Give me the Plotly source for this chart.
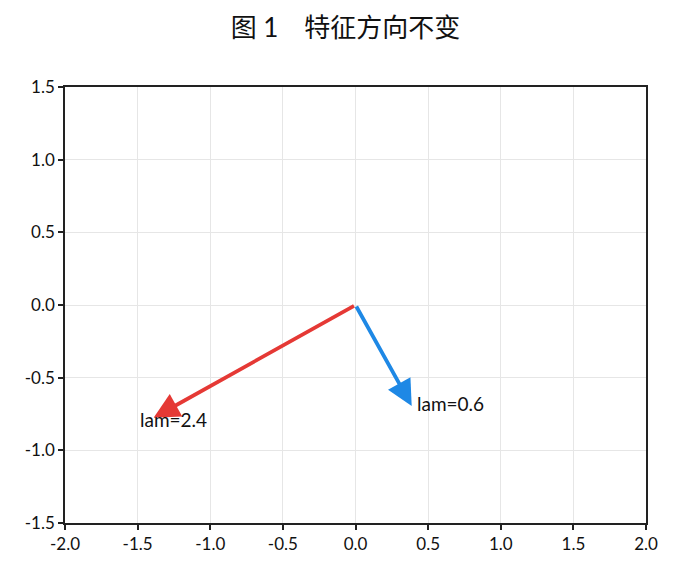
import plotly.graph_objects as go

# eigen-direction vectors (end points, start at origin)
names = ["lam=2.4", "lam=0.6"]
vec_x = [-1.39, 0.387]
vec_y = [-0.776, -0.695]
label_x = [-1.50, 0.41]
label_y = [-0.785, -0.675]
colors = ["#e53935", "#1e88e5"]

x_ticks = [-2.0, -1.5, -1.0, -0.5, 0.0, 0.5, 1.0, 1.5, 2.0]
x_ticktext = ["-2.0", "-1.5", "-1.0", "-0.5", "0.0", "0.5", "1.0", "1.5", "2.0"]
y_ticks = [-1.5, -1.0, -0.5, 0.0, 0.5, 1.0, 1.5]
y_ticktext = ["-1.5", "-1.0", "-0.5", "0.0", "0.5", "1.0", "1.5"]

font_family = "Futura, 'Century Gothic', Lato, 'Noto Sans CJK SC', sans-serif"

fig = go.Figure()

# invisible trace so the axes exist
fig.add_trace(go.Scatter(x=[0], y=[0], mode="markers", marker=dict(opacity=0), showlegend=False, hoverinfo="skip"))

for i in range(len(names)):
    fig.add_annotation(
        x=vec_x[i], y=vec_y[i], ax=0, ay=0,
        xref="x", yref="y", axref="x", ayref="y",
        text="", showarrow=True,
        arrowhead=2, arrowsize=1.35, arrowwidth=3.8,
        arrowcolor=colors[i], standoff=0,
    )
    fig.add_annotation(
        x=label_x[i], y=label_y[i], xref="x", yref="y",
        text=names[i], showarrow=False,
        xanchor="left", yanchor="middle",
        font=dict(size=19, color="#111111", family=font_family),
    )

# page body adds an 8px offset, margins compensate
fig.update_layout(
    width=675, height=573,
    margin=dict(l=57, r=37, t=79, b=58),
    paper_bgcolor="white", plot_bgcolor="white",
    title=dict(text="图 1　特征方向不变", x=0.5, xanchor="center", y=0.965, yanchor="middle",
               font=dict(size=26, color="#111111", family=font_family)),
    font=dict(family=font_family, size=17, color="#111111"),
    showlegend=False,
)

axis_style = dict(
    showgrid=True, gridcolor="#e6e6e6", gridwidth=1,
    showline=True, linecolor="#222222", linewidth=1.5, mirror=True,
    ticks="outside", ticklen=5, tickwidth=1.5, tickcolor="#222222",
    zeroline=False,
    tickfont=dict(size=17, color="#111111", family=font_family),
)
fig.update_xaxes(range=[-2, 2], tickvals=x_ticks, ticktext=x_ticktext, **axis_style)
fig.update_yaxes(range=[-1.5, 1.5], tickvals=y_ticks, ticktext=y_ticktext, **axis_style)

fig.write_html("out.html")
